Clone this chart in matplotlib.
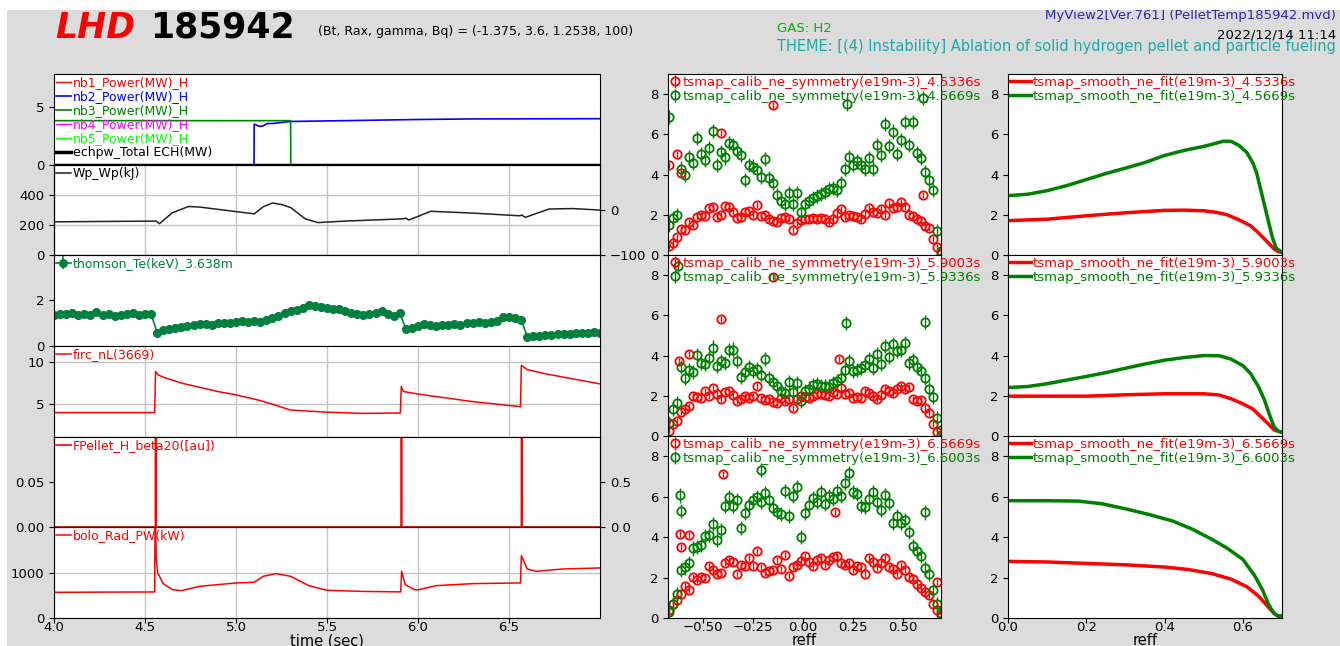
import matplotlib
matplotlib.use('Agg')
import matplotlib.pyplot as plt
from matplotlib.patches import Rectangle

W, H = 1340, 646

# ---------------- time traces (left column) ----------------
zero_t = [4.0, 7.0]
zero_p = [0.0, 0.0]
nb2_t = [4.0, 5.099, 5.1, 5.13, 5.15, 5.17, 5.2, 5.3, 5.6, 6.0, 6.3, 7.0]
nb2_p = [0.0, 0.0, 3.55, 3.35, 3.4, 3.6, 3.6, 3.78, 3.85, 3.95, 4.0, 4.02]
nb3_t = [4.0, 5.3, 5.301, 7.0]
nb3_p = [3.85, 3.85, 0.0, 0.0]

wp_t = [4.0, 4.56, 4.58, 4.65, 4.74, 4.8, 5.1, 5.15, 5.2, 5.25, 5.3, 5.38, 5.45,
        5.6, 5.92, 5.93, 5.95, 6.07, 6.3, 6.56, 6.57, 6.59, 6.72, 6.85, 7.0]
wp_v = [220, 225, 208, 280, 322, 318, 273, 320, 345, 335, 315, 240, 215,
        225, 240, 245, 232, 290, 278, 260, 265, 250, 305, 308, 298]

te_t = [4.0, 4.033, 4.067, 4.1, 4.133, 4.167, 4.2, 4.233, 4.267, 4.3,
        4.333, 4.367, 4.4, 4.433, 4.467, 4.5, 4.533, 4.567, 4.6, 4.633,
        4.667, 4.7, 4.733, 4.767, 4.8, 4.833, 4.867, 4.9, 4.933, 4.967,
        5.0, 5.033, 5.067, 5.1, 5.133, 5.167, 5.2, 5.233, 5.267, 5.3,
        5.333, 5.367, 5.4, 5.433, 5.467, 5.5, 5.533, 5.567, 5.6, 5.633,
        5.667, 5.7, 5.733, 5.767, 5.8, 5.833, 5.867, 5.9, 5.933, 5.967,
        6.0, 6.033, 6.067, 6.1, 6.133, 6.167, 6.2, 6.233, 6.267, 6.3,
        6.333, 6.367, 6.4, 6.433, 6.467, 6.5, 6.533, 6.567, 6.6, 6.633,
        6.667, 6.7, 6.733, 6.767, 6.8, 6.833, 6.867, 6.9, 6.933, 6.967, 7.0]
te_v = [1.35, 1.40, 1.38, 1.42, 1.35, 1.38, 1.33, 1.47, 1.35, 1.38,
        1.32, 1.36, 1.40, 1.42, 1.33, 1.38, 1.40, 0.57, 0.68, 0.72,
        0.78, 0.82, 0.88, 0.92, 0.95, 0.97, 0.93, 1.00, 0.98, 1.02,
        1.05, 1.10, 1.06, 1.08, 1.05, 1.12, 1.22, 1.32, 1.45, 1.52,
        1.58, 1.65, 1.80, 1.75, 1.68, 1.65, 1.62, 1.60, 1.52, 1.45,
        1.38, 1.35, 1.40, 1.42, 1.50, 1.40, 1.32, 1.45, 0.73, 0.80,
        0.88, 0.95, 0.90, 0.88, 0.92, 0.90, 0.95, 0.92, 0.98, 1.02,
        1.05, 0.98, 1.05, 1.08, 1.25, 1.25, 1.20, 1.15, 0.40, 0.42,
        0.45, 0.48, 0.47, 0.50, 0.52, 0.50, 0.55, 0.57, 0.58, 0.60, 0.58]

firc_t = [4.0, 4.3, 4.553, 4.558, 4.57, 4.6, 4.65, 4.7, 4.8, 4.9, 5.0, 5.12, 5.2,
          5.3, 5.5, 5.7, 5.903, 5.908, 5.92, 6.0, 6.15, 6.3, 6.563, 6.568, 6.6,
          6.7, 6.8, 7.0]
firc_n = [4.0, 4.0, 4.0, 8.9, 8.5, 8.2, 7.85, 7.5, 7.0, 6.5, 6.1, 5.5, 5.0,
          4.3, 4.05, 3.9, 3.95, 7.1, 6.5, 6.2, 5.75, 5.3, 4.7, 9.6, 9.1,
          8.6, 8.2, 7.4]

pel_t = [4.0, 4.557, 4.558, 4.56, 4.561, 5.907, 5.908, 5.91, 5.911,
         6.568, 6.569, 6.571, 6.572, 7.0]
pel_v = [0.0, 0.0, 1.0, 1.0, 0.0, 0.0, 1.0, 1.0, 0.0,
         0.0, 1.0, 1.0, 0.0, 0.0]

bolo_t = [4.0, 4.3, 4.553, 4.556, 4.562, 4.57, 4.6, 4.65, 4.7, 4.8, 5.0, 5.1,
          5.15, 5.22, 5.3, 5.4, 5.5, 5.7, 5.905, 5.91, 5.93, 5.98, 6.0, 6.1,
          6.3, 6.563, 6.568, 6.6, 6.65, 6.8, 7.0]
bolo_p = [570, 575, 578, 2500, 1300, 1000, 763, 630, 607, 703, 778, 793,
          926, 985, 926, 718, 615, 590, 580, 1037, 740, 630, 625, 718,
          763, 778, 1385, 1089, 1037, 1089, 1111]

# ---------------- Thomson profiles (middle column) ----------------
reff = [-0.67, -0.65, -0.63, -0.61, -0.59, -0.57, -0.55, -0.53, -0.51, -0.49,
        -0.47, -0.45, -0.43, -0.41, -0.39, -0.37, -0.35, -0.33, -0.31, -0.29,
        -0.27, -0.25, -0.23, -0.21, -0.19, -0.17, -0.15, -0.13, -0.11, -0.09,
        -0.07, -0.05, -0.03, -0.01, 0.01, 0.03, 0.05, 0.07, 0.09, 0.11,
        0.13, 0.15, 0.17, 0.19, 0.21, 0.23, 0.25, 0.27, 0.29, 0.31,
        0.33, 0.35, 0.37, 0.39, 0.41, 0.43, 0.45, 0.47, 0.49, 0.51,
        0.53, 0.55, 0.57, 0.59, 0.61, 0.63, 0.65, 0.67, 0.69]

ne_red_a = [0.45, 0.6, 0.9, 1.3, 1.25, 1.65, 1.5, 1.9, 2.0, 1.95,
            2.35, 2.4, 1.9, 2.0, 2.45, 2.4, 2.15, 1.85, 1.9, 2.15,
            2.2, 2.0, 2.5, 1.95, 2.0, 1.8, 1.7, 1.65, 1.85, 1.9,
            1.8, 1.25, 1.6, 1.75, 1.8, 1.8, 1.83, 1.8, 1.82, 1.8,
            1.65, 1.8, 2.1, 2.3, 1.9, 2.0, 1.95, 1.9, 1.8, 2.05,
            2.35, 2.15, 2.1, 2.3, 2.0, 2.6, 2.35, 2.4, 2.65, 2.4,
            2.0, 1.95, 1.8, 1.7, 1.45, 1.35, 0.8, 0.4, 0.1]
ne_grn_a = [1.5, 1.86, 2.0, 4.3, 4.0, 4.85, 4.56, 5.8, 5.0, 4.73,
            5.3, 6.17, 4.48, 5.1, 4.85, 5.56, 5.48, 5.15, 4.95, 3.73,
            4.48, 4.4, 4.23, 3.9, 4.78, 3.82, 3.57, 3.0, 2.69, 2.52,
            3.07, 2.52, 3.07, 2.16, 2.52, 2.69, 2.82, 2.95, 3.05, 3.15,
            3.3, 3.35, 3.24, 3.6, 4.28, 4.85, 4.48, 4.65, 4.5, 4.3,
            4.81, 4.3, 5.48, 4.98, 6.5, 5.4, 6.14, 5.0, 5.73, 6.6,
            5.48, 6.6, 5.06, 4.81, 4.15, 3.73, 3.24, 1.2, 0.2]
ne_red_b = [0.25, 0.58, 0.75, 1.2, 1.36, 1.5, 2.0, 1.95, 1.9, 2.24,
            2.0, 2.4, 2.07, 1.86, 2.19, 2.24, 2.05, 1.74, 1.83, 2.0,
            1.9, 2.0, 2.49, 1.9, 1.8, 1.83, 1.7, 1.63, 1.9, 1.75,
            1.85, 1.41, 1.83, 2.0, 1.95, 1.9, 2.0, 2.1, 2.07, 2.05,
            2.0, 2.19, 2.1, 2.4, 2.07, 2.16, 1.9, 1.95, 1.9, 2.24,
            2.12, 2.0, 1.83, 2.05, 2.36, 2.25, 2.16, 2.32, 2.49, 2.36,
            2.45, 1.83, 1.74, 1.8, 1.4, 1.16, 0.6, 0.2, 0.05]
ne_grn_b = [0.66, 1.33, 1.63, 3.45, 2.9, 3.29, 3.19, 4.02, 3.65, 3.57,
            3.9, 4.4, 3.49, 3.73, 3.65, 4.28, 4.3, 3.73, 2.95, 3.19,
            3.45, 3.24, 3.32, 3.02, 3.85, 2.9, 2.69, 2.49, 2.24, 2.12,
            2.69, 2.19, 2.64, 1.74, 2.24, 2.36, 2.52, 2.57, 2.49, 2.47,
            2.46, 2.62, 2.74, 2.9, 3.29, 3.73, 3.24, 3.3, 3.4, 3.52,
            3.82, 3.4, 4.07, 3.57, 4.48, 3.95, 4.56, 4.23, 4.3, 4.61,
            3.65, 3.78, 3.45, 3.24, 2.9, 2.32, 1.96, 0.9, 0.3]
ne_red_c = [0.38, 0.71, 0.91, 1.21, 1.57, 1.4, 2.04, 1.9, 2.04, 2.0,
            2.57, 2.37, 2.2, 2.23, 2.73, 2.86, 2.78, 2.17, 2.62, 2.57,
            2.95, 2.57, 3.33, 2.5, 2.23, 2.3, 2.37, 2.86, 2.4, 3.11,
            2.09, 2.53, 2.62, 2.83, 3.06, 2.78, 2.57, 2.86, 2.95, 2.62,
            2.86, 3.0, 3.06, 2.73, 2.62, 2.7, 2.37, 2.57, 2.5, 2.17,
            2.95, 2.78, 2.45, 2.73, 2.95, 2.5, 2.4, 2.17, 2.62, 2.37,
            2.04, 1.95, 1.67, 1.5, 1.29, 1.13, 0.71, 0.38, 0.13]
ne_grn_c = [0.3, 0.71, 1.18, 2.37, 2.5, 2.7, 3.44, 3.5, 3.61, 4.06,
            4.1, 4.65, 3.86, 4.35, 5.55, 6.0, 5.55, 5.84, 4.44, 5.18,
            5.6, 5.84, 5.98, 5.76, 6.18, 5.84, 5.43, 5.26, 5.15, 6.3,
            5.05, 6.04, 6.47, 3.99, 5.18, 5.6, 5.93, 5.76, 6.21, 5.65,
            6.04, 5.88, 6.26, 6.04, 6.7, 7.17, 6.21, 6.14, 5.55, 5.48,
            5.88, 6.21, 5.76, 5.35, 6.09, 5.71, 4.69, 5.02, 4.72, 4.85,
            4.27, 3.56, 3.3, 3.06, 2.45, 2.17, 1.37, 0.71, 0.25]

# stray points away from the profile
out_red_a_r = [-0.67, -0.63, -0.61, -0.41, -0.15, 0.60]
out_red_a_v = [4.48, 5.03, 4.1, 6.06, 7.47, 3.0]
out_grn_a_r = [-0.67, 0.22, 0.60]
out_grn_a_v = [6.85, 7.5, 7.8]
out_red_b_r = [-0.62, -0.57, -0.41, -0.15, 0.18]
out_red_b_v = [3.73, 4.1, 5.84, 7.9, 3.85]
out_grn_b_r = [-0.625, 0.217, 0.61]
out_grn_b_v = [8.45, 5.61, 5.68]
out_red_c_r = [-0.615, -0.61, -0.57, -0.40, 0.163, 0.672]
out_red_c_v = [4.15, 3.53, 4.12, 7.14, 5.22, 1.79]
out_grn_c_r = [-0.615, -0.612, -0.21, 0.61]
out_grn_c_v = [6.06, 5.3, 7.33, 5.22]

err_red = 0.15
err_grn = 0.35

# ---------------- smoothed fits (right column) ----------------
fit_a_red_r = [0.0, 0.1, 0.2, 0.3, 0.4, 0.45, 0.5, 0.53, 0.56, 0.59, 0.62, 0.64,
               0.66, 0.68, 0.69, 0.7]
fit_a_red_v = [1.71, 1.78, 1.95, 2.1, 2.22, 2.23, 2.2, 2.13, 2.0, 1.75, 1.45, 1.1,
               0.7, 0.3, 0.17, 0.13]
fit_a_grn_r = [0.0, 0.05, 0.1, 0.15, 0.2, 0.25, 0.3, 0.35, 0.4, 0.45, 0.5, 0.53,
               0.55, 0.57, 0.59, 0.61, 0.625, 0.635, 0.645, 0.655, 0.665, 0.675,
               0.685, 0.7]
fit_a_grn_v = [2.95, 3.02, 3.2, 3.45, 3.75, 4.05, 4.32, 4.6, 4.95, 5.2, 5.4, 5.55,
               5.66, 5.65, 5.45, 5.1, 4.6, 4.1, 3.3, 2.5, 1.7, 0.9,
               0.35, 0.13]
fit_b_red_r = [0.0, 0.2, 0.3, 0.4, 0.5, 0.54, 0.57, 0.6, 0.625, 0.645, 0.665,
               0.68, 0.7]
fit_b_red_v = [1.98, 1.98, 2.05, 2.1, 2.1, 2.04, 1.85, 1.6, 1.35, 0.98, 0.6,
               0.3, 0.18]
fit_b_grn_r = [0.0, 0.05, 0.1, 0.15, 0.2, 0.25, 0.3, 0.35, 0.4, 0.45, 0.5, 0.54,
               0.57, 0.6, 0.62, 0.64, 0.655, 0.67, 0.68, 0.69, 0.7]
fit_b_grn_v = [2.41, 2.46, 2.6, 2.78, 2.96, 3.15, 3.37, 3.58, 3.77, 3.9, 4.0, 3.99,
               3.82, 3.5, 3.1, 2.45, 1.8, 0.95, 0.45, 0.25, 0.18]
fit_c_red_r = [0.0, 0.1, 0.2, 0.3, 0.4, 0.46, 0.52, 0.57, 0.61, 0.64, 0.66, 0.68,
               0.69, 0.7]
fit_c_red_v = [2.8, 2.77, 2.7, 2.63, 2.52, 2.4, 2.2, 1.92, 1.55, 1.08, 0.65, 0.22,
               0.08, 0.06]
fit_c_grn_r = [0.0, 0.1, 0.18, 0.24, 0.3, 0.36, 0.42, 0.47, 0.52, 0.56, 0.6, 0.63,
               0.65, 0.665, 0.68, 0.69, 0.7]
fit_c_grn_v = [5.8, 5.8, 5.78, 5.65, 5.4, 5.12, 4.8, 4.4, 3.9, 3.45, 2.9, 2.1,
               1.4, 0.7, 0.22, 0.12, 0.1]

prof_times = [('4.5336s', '4.5669s'), ('5.9003s', '5.9336s'), ('6.5669s', '6.6003s')]

GREEN = '#008000'
TE_GREEN = '#00803f'
GRID = '#c4c4c4'

fig = plt.figure(figsize=(W / 100, H / 100), dpi=100, facecolor='#dcdcdc')


def add_ax(x0, y0, x1, y1):
    # pixel box -> figure fraction
    return fig.add_axes([x0 / W, 1 - y1 / H, (x1 - x0) / W, (y1 - y0) / H])


def tidy_legend(ax, colors, hl=1.2, fs=9):
    leg = ax.legend(loc='upper left', frameon=False, fontsize=fs, borderpad=0,
                    borderaxespad=0.15, handlelength=hl, handletextpad=0.15,
                    labelspacing=0.08)
    for txt, c in zip(leg.get_texts(), colors):
        txt.set_color(c)
    return leg


def bottom_axis(ax, label):
    ax.tick_params(axis='x', pad=-1.5)
    ax.set_xlabel(label, fontsize=10.5, labelpad=-0.5)


# ---------------- left column ----------------
rows = [74, 165, 255, 346, 437, 527, 618]
left = [add_ax(54, rows[i], 600, rows[i + 1]) for i in range(6)]
for i, ax in enumerate(left):
    ax.set_xlim(4.0, 7.0)
    ax.set_xticks([4.0, 4.5, 5.0, 5.5, 6.0, 6.5])
    ax.tick_params(labelsize=9.5)
    if i < 5:
        ax.tick_params(axis='x', labelbottom=False, length=0)

ax = left[0]
ax.plot(zero_t, zero_p, color='red', lw=1, label='nb1_Power(MW)_H')
ax.plot(nb2_t, nb2_p, color='blue', lw=1.2, label='nb2_Power(MW)_H')
ax.plot(nb3_t, nb3_p, color=GREEN, lw=1.2, label='nb3_Power(MW)_H')
ax.plot(zero_t, zero_p, color='magenta', lw=1, label='nb4_Power(MW)_H')
ax.plot(zero_t, zero_p, color='lime', lw=1, label='nb5_Power(MW)_H')
ax.plot(zero_t, zero_p, color='black', lw=2.5, label='echpw_Total ECH(MW)')
ax.set_ylim(0, 7.9)
ax.set_yticks([0, 5])
tidy_legend(ax, ['red', 'blue', GREEN, 'magenta', 'lime', 'black'])

ax = left[1]
ax.plot(wp_t, wp_v, color='#222222', lw=1.1, label='Wp_Wp(kJ)')
ax.set_ylim(0, 597)
ax.set_yticks([0, 200, 400])
ax.grid(True, color=GRID, lw=1)
tidy_legend(ax, ['black'])
tw = ax.twinx()
tw.set_ylim(-100, 98)
tw.set_yticks([-100, 0])
tw.tick_params(labelsize=9.5)

ax = left[2]
ax.errorbar(te_t, te_v, yerr=0.03, fmt='-o', color=TE_GREEN, ms=5.5, lw=1.2,
            label='thomson_Te(keV)_3.638m')
ax.set_ylim(0, 3.95)
ax.set_yticks([0, 2])
tidy_legend(ax, [TE_GREEN])

ax = left[3]
ax.plot(firc_t, firc_n, color='red', lw=1.1, label='firc_nL(3669)')
ax.set_ylim(1.1, 11.9)
ax.set_yticks([5, 10])
ax.grid(True, color=GRID, lw=1)
tidy_legend(ax, ['red'])

ax = left[4]
ax.plot(pel_t, pel_v, color='red', lw=1.2, label='FPellet_H_beta20([au])')
ax.set_ylim(0, 0.099)
ax.set_yticks([0.0, 0.05])
ax.set_yticklabels(['0.00', '0.05'])
tidy_legend(ax, ['red'])
tw = ax.twinx()
tw.set_ylim(0, 0.99)
tw.set_yticks([0.0, 0.5])
tw.tick_params(labelsize=9.5)

ax = left[5]
ax.plot(bolo_t, bolo_p, color='red', lw=1.1, label='bolo_Rad_PW(kW)')
ax.set_ylim(0, 2020)
ax.set_yticks([0, 1000])
ax.grid(True, color=GRID, lw=1)
tidy_legend(ax, ['red'])
bottom_axis(ax, 'time (sec)')

# ---------------- middle column ----------------
prof_rows = [74, 255, 436, 618]
mids = [
    (ne_red_a, out_red_a_r, out_red_a_v, ne_grn_a, out_grn_a_r, out_grn_a_v),
    (ne_red_b, out_red_b_r, out_red_b_v, ne_grn_b, out_grn_b_r, out_grn_b_v),
    (ne_red_c, out_red_c_r, out_red_c_v, ne_grn_c, out_grn_c_r, out_grn_c_v),
]
for i, (rv, ror, rov, gv, gor, gov) in enumerate(mids):
    ax = add_ax(668, prof_rows[i], 941, prof_rows[i + 1])
    t1, t2 = prof_times[i]
    ax.errorbar(reff + ror, rv + rov, yerr=err_red, fmt='o', mfc='none', mec='red',
                ecolor='red', ms=6, mew=1.3, elinewidth=1,
                label='tsmap_calib_ne_symmetry(e19m-3)_' + t1)
    ax.errorbar(reff + gor, gv + gov, yerr=err_grn, fmt='o', mfc='none', mec=GREEN,
                ecolor=GREEN, ms=6, mew=1.3, elinewidth=1,
                label='tsmap_calib_ne_symmetry(e19m-3)_' + t2)
    ax.set_xlim(-0.676, 0.692)
    ax.set_ylim(0, 9)
    ax.set_yticks([0, 2, 4, 6, 8])
    ax.set_xticks([-0.5, -0.25, 0.0, 0.25, 0.5])
    ax.tick_params(labelsize=9.5)
    if i < 2:
        ax.tick_params(axis='x', labelbottom=False, length=0)
    else:
        bottom_axis(ax, 'reff')
    tidy_legend(ax, ['red', GREEN], hl=0.8, fs=9.5)

# ---------------- right column ----------------
fits = [
    (fit_a_red_r, fit_a_red_v, fit_a_grn_r, fit_a_grn_v),
    (fit_b_red_r, fit_b_red_v, fit_b_grn_r, fit_b_grn_v),
    (fit_c_red_r, fit_c_red_v, fit_c_grn_r, fit_c_grn_v),
]
for i, (rr, rv, gr, gv) in enumerate(fits):
    ax = add_ax(1008, prof_rows[i], 1282, prof_rows[i + 1])
    t1, t2 = prof_times[i]
    ax.plot(rr, rv, color='red', lw=2.5, label='tsmap_smooth_ne_fit(e19m-3)_' + t1)
    ax.plot(gr, gv, color=GREEN, lw=2.5, label='tsmap_smooth_ne_fit(e19m-3)_' + t2)
    ax.set_xlim(0, 0.7)
    ax.set_ylim(0, 9)
    ax.set_yticks([0, 2, 4, 6, 8])
    ax.set_xticks([0.0, 0.2, 0.4, 0.6])
    ax.tick_params(labelsize=9.5)
    if i < 2:
        ax.tick_params(axis='x', labelbottom=False, length=0)
    else:
        bottom_axis(ax, 'reff')
    tidy_legend(ax, ['red', GREEN], hl=1.6, fs=9.5)

# ---------------- header ----------------
fig.text(55 / W, 1 - 28 / H, 'LHD', color='red', fontsize=25, fontweight='bold',
         fontstyle='italic', va='center')
fig.text(150 / W, 1 - 28 / H, '185942', color='black', fontsize=25,
         fontweight='bold', va='center')
fig.text(318 / W, 1 - 32 / H, '(Bt, Rax, gamma, Bq) = (-1.375, 3.6, 1.2538, 100)',
         fontsize=9, va='center')
fig.text(777 / W, 1 - 29 / H, 'GAS: H2', color='#00b400', fontsize=9.5, va='center')
fig.text(777 / W, 1 - 47 / H,
         'THEME: [(4) Instability] Ablation of solid hydrogen pellet and particle fueling',
         color='#1eaaaa', fontsize=10.5, va='center')
fig.text(1336 / W, 1 - 15 / H, 'MyView2[Ver.761] (PelletTemp185942.mvd)',
         color='#2828b4', fontsize=9.5, ha='right', va='center')
fig.text(1336 / W, 1 - 35 / H, '2022/12/14 11:14', fontsize=9.5, ha='right',
         va='center')

# white margins of the original screenshot
fig.add_artist(Rectangle((0, 1 - 10 / H), 1, 10 / H, transform=fig.transFigure,
                         facecolor='white', edgecolor='none', zorder=20))
fig.add_artist(Rectangle((0, 0), 7 / W, 1, transform=fig.transFigure,
                         facecolor='white', edgecolor='none', zorder=20))

fig.savefig('out.png', dpi=100, facecolor=fig.get_facecolor())
